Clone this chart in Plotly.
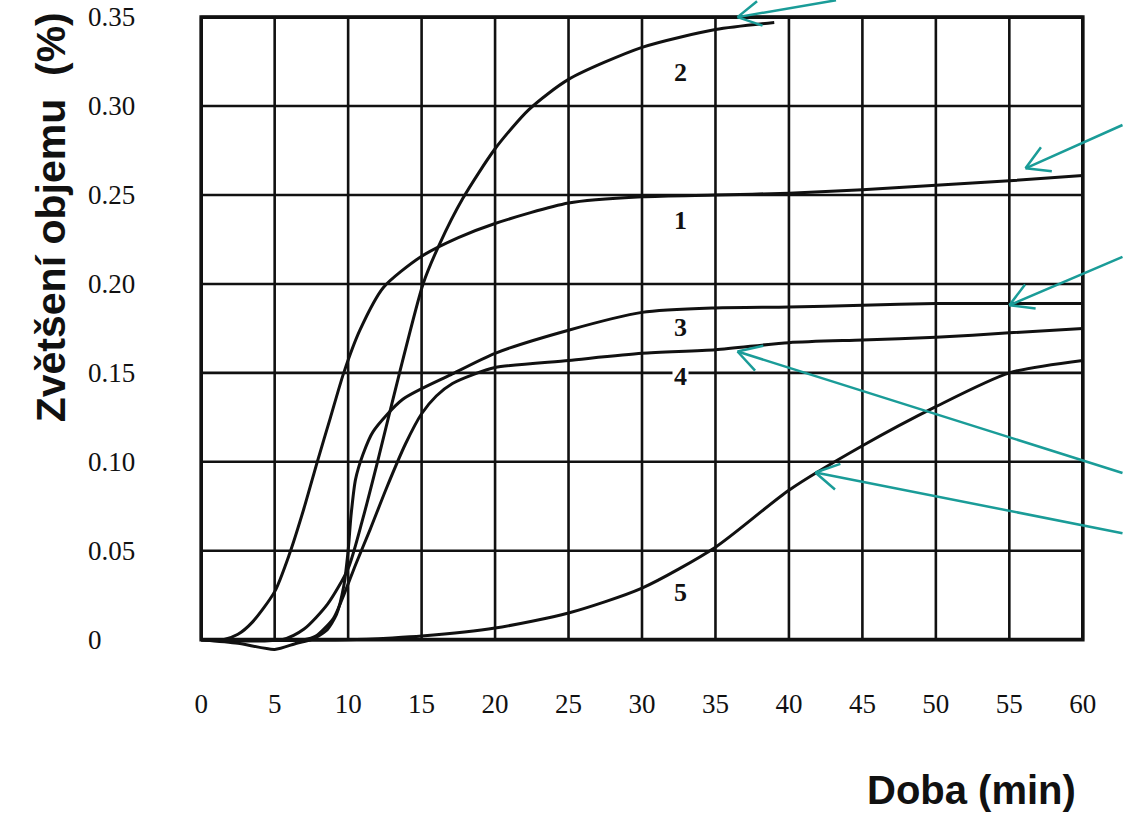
import math
import plotly.graph_objects as go

# Swelling curves: time (min) vs. volume increase (%)
t1 = [0, 1.5, 2.5, 3.5, 5, 6, 7, 7.9, 8.8, 9.7, 10.8, 12.4, 14.9, 17.5, 20, 25, 30, 35, 40, 45, 50, 55, 60]
v1 = [0, 0, 0.003, 0.01, 0.027, 0.048, 0.074, 0.1, 0.125, 0.15, 0.174, 0.198, 0.215, 0.226, 0.234, 0.2455,
      0.249, 0.25, 0.251, 0.253, 0.2555, 0.258, 0.261]

t2 = [0, 5.5, 7, 8.6, 10, 11, 12, 13.5, 15.1, 16.2, 17.8, 20, 22.3, 25, 30, 35, 39]
v2 = [0, 0, 0.006, 0.02, 0.04, 0.068, 0.1, 0.15, 0.2, 0.222, 0.248, 0.276, 0.298, 0.315, 0.333, 0.343, 0.347]

t3 = [0, 2.5, 5, 6.5, 7.5, 8.5, 9.2, 9.7, 10.0, 10.2, 10.5, 11.0, 11.7, 13.7, 17, 20, 25, 30, 35, 40, 45, 50, 55, 60]
v3 = [0, -0.002, -0.0055, -0.002, 0, 0.005, 0.014, 0.03, 0.05, 0.07, 0.09, 0.104, 0.117, 0.135, 0.149, 0.161,
      0.174, 0.184, 0.1865, 0.187, 0.188, 0.189, 0.189, 0.189]

t4 = [0, 7, 7.8, 9.0, 9.7, 10.5, 11.5, 12.6, 13.9, 15, 16, 17.1, 18.5, 20, 25, 30, 35, 40, 45, 50, 55, 60]
v4 = [0, 0, 0.002, 0.012, 0.025, 0.042, 0.062, 0.085, 0.11, 0.127, 0.137, 0.144, 0.149, 0.153, 0.157, 0.161,
      0.163, 0.167, 0.1685, 0.17, 0.1725, 0.175]

t5 = [0, 10, 13, 15, 20, 25, 30, 35, 40, 45, 50, 55, 60]
v5 = [0, 0, 0.001, 0.002, 0.0065, 0.015, 0.029, 0.052, 0.084, 0.109, 0.131, 0.15, 0.157]

curve_names = ["1", "2", "3", "4", "5"]

# Curve number labels (time, value)
label_t = [32.6, 32.6, 32.6, 32.6, 32.6]
label_v = [0.2354, 0.319, 0.1753, 0.148, 0.0264]

# Axis ticks
x_ticks = [0, 5, 10, 15, 20, 25, 30, 35, 40, 45, 50, 55, 60]
x_ticktext = ["0", "5", "10", "15", "20", "25", "30", "35", "40", "45", "50", "55", "60"]
y_ticks = [0, 0.05, 0.10, 0.15, 0.20, 0.25, 0.30, 0.35]
y_ticktext = ["0", "0.05", "0.10", "0.15", "0.20", "0.25", "0.30", "0.35"]

# Pointer arrows: tip (time, value) and tail offset in pixels
arrow_tip_t = [36.5, 56.1, 55.0, 36.5, 41.8]
arrow_tip_v = [0.35, 0.265, 0.188, 0.162, 0.094]
arrow_dx = [100, 100, 116, 390, 312]
arrow_dy = [-20, -44, -49, 122, 61]

INK = "#111111"
TEAL = "#1a9c98"

fig = go.Figure()

for t, v in zip([t1, t2, t3, t4, t5], [v1, v2, v3, v4, v5]):
    fig.add_trace(go.Scatter(
        x=t, y=v, mode="lines",
        line=dict(color=INK, width=3, shape="spline", smoothing=0.7),
        hoverinfo="skip", showlegend=False,
    ))

shapes = []
# grid
for xv in x_ticks:
    shapes.append(dict(type="line", xref="x", yref="y", x0=xv, x1=xv, y0=0, y1=0.35,
                       line=dict(color=INK, width=2.6), layer="below"))
for yv in y_ticks:
    shapes.append(dict(type="line", xref="x", yref="y", x0=0, x1=60, y0=yv, y1=yv,
                       line=dict(color=INK, width=2.6), layer="below"))
# frame
shapes.append(dict(type="rect", xref="x", yref="y", x0=0, x1=60, y0=0, y1=0.35,
                   line=dict(color=INK, width=3.6), layer="below"))

annotations = []
for yv, txt in zip(y_ticks, y_ticktext):
    annotations.append(dict(x=-0.1275, xref="paper", y=yv, yref="y", text=txt, showarrow=False,
                            xanchor="left", yanchor="middle",
                            font=dict(family="Liberation Serif", size=27, color=INK)))

for name, lt, lv in zip(curve_names, label_t, label_v):
    annotations.append(dict(x=lt, y=lv, xref="x", yref="y", text="<b>%s</b>" % name, showarrow=False,
                            xanchor="center", yanchor="middle",
                            bgcolor="white" if name == "4" else None, borderpad=1,
                            font=dict(family="Liberation Serif", size=26, color=INK)))

for tt, tv, dx, dy in zip(arrow_tip_t, arrow_tip_v, arrow_dx, arrow_dy):
    annotations.append(dict(x=tt, y=tv, xref="x", yref="y", ax=dx, ay=dy, text="",
                            showarrow=True, arrowhead=0, arrowwidth=2.5, arrowcolor=TEAL,
                            standoff=0, startstandoff=0))
    ang = math.atan2(dy, dx)
    for sgn in (1, -1):
        a = ang + sgn * math.radians(30)
        annotations.append(dict(x=tt, y=tv, xref="x", yref="y",
                                ax=28 * math.cos(a), ay=28 * math.sin(a), text="",
                                showarrow=True, arrowhead=0, arrowwidth=2.5, arrowcolor=TEAL,
                                standoff=0, startstandoff=0))

annotations.append(dict(x=-0.167, y=0.683, xref="paper", yref="paper", text="<b>Zvětšení objemu  (%)</b>",
                        textangle=-90, showarrow=False, xanchor="center", yanchor="middle",
                        font=dict(family="Liberation Sans", size=41, color=INK)))
annotations.append(dict(x=0.872, y=-0.214, xref="paper", yref="paper", text="<b>Doba (min)</b>",
                        showarrow=False, xanchor="center", yanchor="middle",
                        font=dict(family="Liberation Sans", size=40, color=INK)))

fig.update_layout(
    width=1124, height=815,
    margin=dict(l=199, r=39, t=15, b=162),
    paper_bgcolor="white", plot_bgcolor="white",
    shapes=shapes, annotations=annotations,
    xaxis=dict(range=[-0.15, 60.15], showgrid=False, zeroline=False, showline=False,
               tickmode="array", tickvals=x_ticks, ticktext=x_ticktext, ticks="",
               ticklabelstandoff=32, automargin=False,
               tickfont=dict(family="Liberation Serif", size=27, color=INK)),
    yaxis=dict(range=[-0.0075, 0.3512], showgrid=False, zeroline=False, showline=False,
               showticklabels=False, automargin=False),
)

fig.write_html("out.html")
